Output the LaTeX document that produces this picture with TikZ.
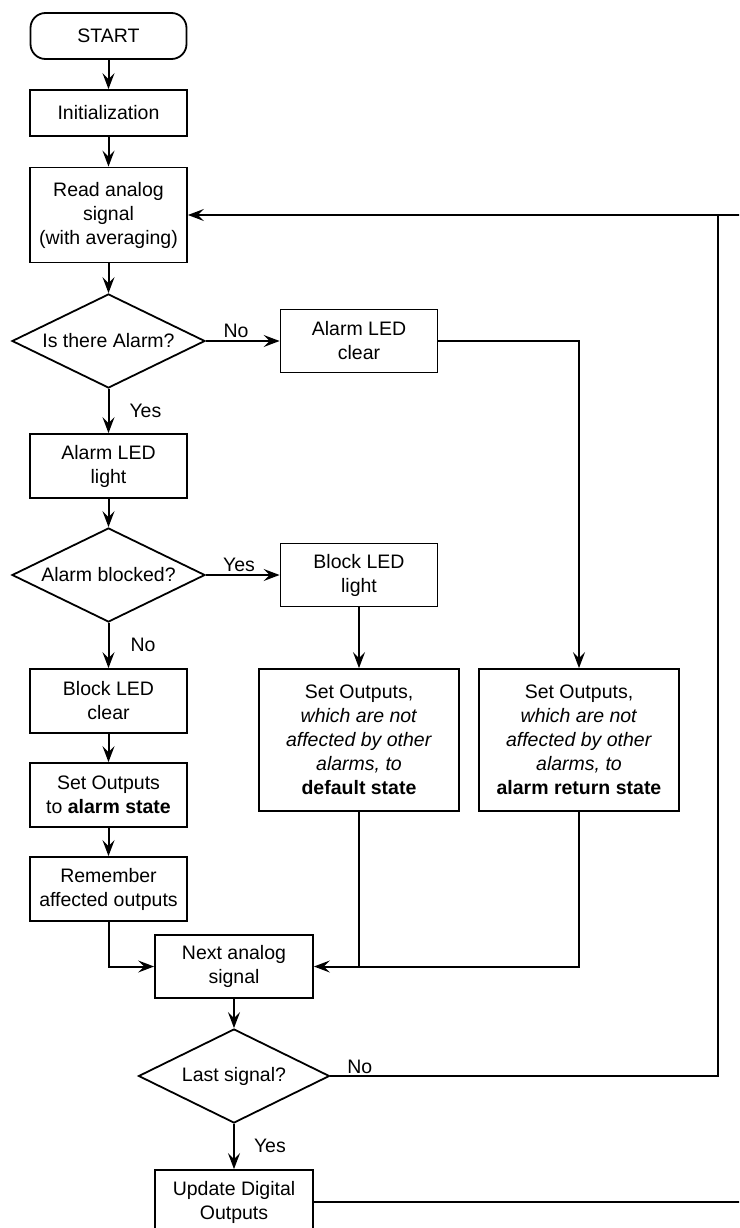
\documentclass[tikz,border=0pt]{standalone}
\usepackage{fontspec}
\setmainfont{Liberation Sans}
\usetikzlibrary{shapes.geometric,arrows.meta}
\begin{document}
\begin{tikzpicture}[x=1pt,y=-1pt,
  every node/.style={font=\fontsize{19.5}{24}\selectfont},
  box/.style={draw, line width=1.8pt, align=center, inner sep=0pt, minimum width=157pt, minimum height=64pt},
  widebox/.style={box, minimum width=200pt, minimum height=142pt},
  dia/.style={draw, diamond, line width=1.8pt, inner sep=0pt, minimum width=193pt, minimum height=94pt},
  conn/.style={line width=2pt},
  arr/.style={conn, -{Stealth[length=16pt,width=12pt,inset=6pt]}},
  lbl/.style={inner sep=2pt}]
\clip (0,0) rectangle (739,1228);
\fill[white] (0,0) rectangle (739,1228);

\node[box, rounded corners=15pt, minimum width=156pt, minimum height=46pt] (start) at (108.5,36) {START};
\node[box, minimum height=46pt] (init) at (108.5,113) {Initialization};
\node[box, minimum height=95pt] (read) at (108.5,215) {Read analog\\signal\\(with averaging)};
\node[dia, label={center:Is there Alarm?}] (d1) at (108.5,341) {};
\node[box, minimum height=63pt] (aclr) at (359,341) {Alarm LED\\clear};
\node[box] (alight) at (108.5,466) {Alarm LED\\light};
\node[dia, label={center:Alarm blocked?}] (d2) at (108.5,575) {};
\node[box, minimum height=63pt] (blight) at (359,575) {Block LED\\light};
\node[box] (bclr) at (108.5,701) {Block LED\\clear};
\node[box] (setal) at (108.5,795) {Set Outputs\\to \textbf{alarm state}};
\node[box] (remem) at (108.5,889) {Remember\\affected outputs};
\node[widebox] (setdef) at (359,740) {Set Outputs,\\\textit{which are not}\\\textit{affected by other}\\\textit{alarms, to}\\\textbf{default state}};
\node[widebox] (setret) at (579,740) {Set Outputs,\\\textit{which are not}\\\textit{affected by other}\\\textit{alarms, to}\\\textbf{alarm return state}};
\node[box, minimum width=158pt, minimum height=63pt] (next) at (234,966.5) {Next analog\\signal};
\node[dia, minimum width=191pt, label={center:Last signal?}] (d3) at (234,1076) {};
\node[box, minimum width=158pt] (upd) at (234,1202) {Update Digital\\Outputs};

\coordinate (rt) at (718,215);
\coordinate (edgeR) at (745,215);
\coordinate (edgeU) at (745,1202);

\draw[arr] (start) -- (init);
\draw[arr] (init) -- (read);
\draw[arr] (read) -- (d1);
\draw[arr] (d1.east) -- node[lbl, above, pos=0.41] {No} (aclr.west);
\draw[arr] (d1.south) -- node[right, inner sep=0pt, xshift=20pt, pos=0.49] {Yes} (alight.north);
\draw[arr] (alight) -- (d2);
\draw[arr] (d2.east) -- node[lbl, above, pos=0.45] {Yes} (blight.west);
\draw[arr] (d2.south) -- node[right, inner sep=0pt, xshift=21pt, pos=0.49] {No} (bclr.north);
\draw[arr] (bclr) -- (setal);
\draw[arr] (setal) -- (remem);
\draw[arr] (blight) -- (setdef);
\draw[arr] (aclr.east) -| (setret.north);
\draw[arr] (remem.south) |- (next.west);
\draw[conn] (setdef.south) -- (setdef.south |- next.east);
\draw[arr] (setret.south) |- (next.east);
\draw[arr] (next) -- (d3);
\draw[conn] (d3.east) -- node[above right, inner sep=1pt, pos=0, xshift=15pt] {No} (rt |- d3.east) -- (rt);
\draw[arr] (edgeR) -- (read.east);
\draw[arr] (d3.south) -- node[right, inner sep=0pt, xshift=19pt, pos=0.49] {Yes} (upd.north);
\draw[conn] (upd.east) -- (edgeU);
\end{tikzpicture}
\end{document}
